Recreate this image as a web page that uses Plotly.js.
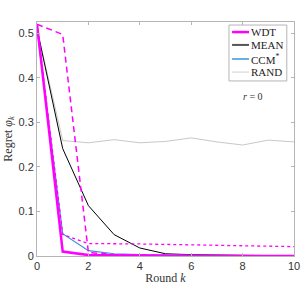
<!DOCTYPE html>
<html><head><meta charset="utf-8">
<script src="https://cdn.plot.ly/plotly-3.0.1.min.js"></script>
<style>html,body{margin:0;padding:0;background:#fff}#c{width:305px;height:290px}</style>
</head><body><div id="c"></div>
<script>
const rounds = [0,1,2,3,4,5,6,7,8,9,10];
const wdt       = [0.52,0.010,0.002,0.001,0.0005,0.0003,0.0002,0.0001,0.0001,0.0001,0.0001];
const wdtDashed = [0.52,0.497,0.008,0.003,0.002,0.001,0.0005,0.0003,0.0002,0.0001,0.0001];
const wdtDotted = [0.52,0.048,0.028,0.028,0.027,0.026,0.025,0.024,0.023,0.022,0.021];
const mean      = [0.51,0.241,0.113,0.048,0.018,0.005,0.003,0.002,0.001,0.0005,0.0003];
const ccm       = [0.51,0.050,0.012,0.005,0.003,0.002,0.001,0.0007,0.0005,0.0003,0.0002];
const rand      = [0.51,0.259,0.254,0.261,0.254,0.257,0.265,0.256,0.249,0.260,0.256];
const yTicks = [0,0.1,0.2,0.3,0.4,0.5];
const xTicks = [0,2,4,6,8,10];
const legendNames  = ['WDT','MEAN','CCM<sup>*</sup>','RAND'];
const legendColors = ['#ff00ff','#555555','#6aaee0','#d0d0d0'];
const legendWidths = [2.5,2,2,1];

const SERIF = "'Liberation Serif', 'Times New Roman', 'DejaVu Serif', serif";
const SANS = "'Liberation Sans', Arial, sans-serif";

const traces = [
  {x:rounds,y:rand,name:'RAND',mode:'lines',line:{color:'#c8c8c8',width:1}},
  {x:rounds,y:mean,name:'MEAN',mode:'lines',line:{color:'#000000',width:1}},
  {x:rounds,y:ccm,name:'CCM*',mode:'lines',line:{color:'#3d8fd4',width:1.2}},
  {x:rounds,y:wdtDotted,name:'WDT dotted',mode:'lines',line:{color:'#ff00ff',width:1.3,dash:'dot'}},
  {x:rounds,y:wdtDashed,name:'WDT dashed',mode:'lines',line:{color:'#ff00ff',width:1.5,dash:'6px,4px'}},
  {x:rounds,y:wdt,name:'WDT',mode:'lines',line:{color:'#ff00ff',width:2.5}}
];

const axisCommon = {showline:true,mirror:'ticks',ticks:'inside',ticklen:3,linecolor:'#b5b5b5',tickcolor:'#b5b5b5',
  linewidth:1,showgrid:false,zeroline:false,automargin:false,tickfont:{family:SANS,size:11,color:'#333'}};

// legend (drawn as decorations)
const rowY = [0.957,0.902,0.842,0.786];
const shapes = [{type:'rect',xref:'paper',yref:'paper',x0:0.747,x1:0.972,y0:0.748,y1:0.987,
  line:{color:'#b5b5b5',width:1},fillcolor:'#ffffff',layer:'above'}];
const annotations = [];
legendNames.forEach((n,i)=>{
  shapes.push({type:'line',xref:'paper',yref:'paper',x0:0.759,x1:0.825,y0:rowY[i],y1:rowY[i],
    line:{color:legendColors[i],width:legendWidths[i]},layer:'above'});
  annotations.push({xref:'paper',yref:'paper',x:0.826,y:rowY[i],xanchor:'left',yanchor:'middle',text:n,showarrow:false,
    font:{family:SERIF,size:11,color:'#222'}});
});
annotations.push({xref:'paper',yref:'paper',x:0.887,y:0.714,text:'<i>r</i> = 0',showarrow:false,
  font:{family:SERIF,size:10,color:'#333'}});

const layout = {
  width:305,height:290,
  margin:{l:37,r:11,t:22,b:34},
  paper_bgcolor:'#fff',plot_bgcolor:'#fff',
  showlegend:false,
  xaxis:Object.assign({},axisCommon,{range:[0,10],tickvals:xTicks,ticktext:xTicks.map(String),
    title:{text:'Round <i>k</i>',font:{family:SERIF,size:12,color:'#333'},standoff:2}}),
  yaxis:Object.assign({},axisCommon,{range:[0,0.525],tickvals:yTicks,ticktext:yTicks.map(String),
    title:{text:'Regret <i>φ<sub>k</sub></i>',font:{family:SERIF,size:12,color:'#333'},standoff:3}}),
  shapes:shapes,
  annotations:annotations
};
Plotly.newPlot('c',traces,layout,{displayModeBar:false,staticPlot:true});
</script></body></html>
